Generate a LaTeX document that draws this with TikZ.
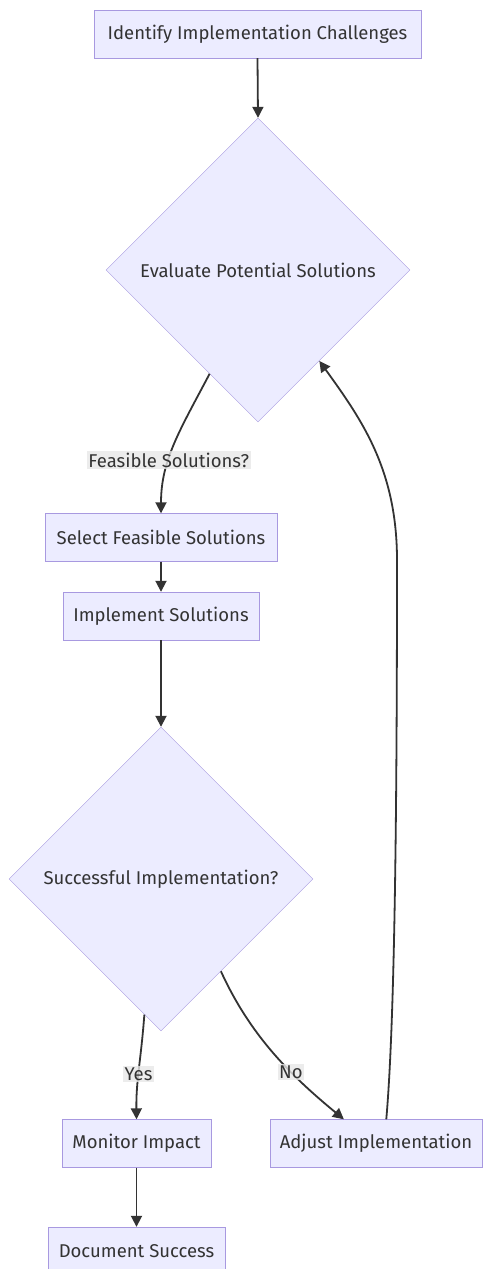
\documentclass[tikz,border=0pt]{standalone}
\usepackage{fontspec}
\setmainfont{Fira Sans}
\usetikzlibrary{shapes.geometric,arrows.meta}
\definecolor{lavender}{HTML}{ECECFF}
\definecolor{lilac}{HTML}{A899E0}
\definecolor{ink}{HTML}{333333}
\definecolor{lblgray}{HTML}{E8E8E8}

\begin{document}
\begin{tikzpicture}[x=1pt, y=-1pt,
                    every node/.style={font=\fontsize{18.5}{22}\selectfont, text=ink},
                    proc/.style={rectangle, draw=lilac, fill=lavender, minimum height=48pt, inner xsep=0pt},
                    choice/.style={diamond, draw=lilac, fill=lavender, aspect=1, minimum width=304pt, minimum height=304pt, inner sep=0pt},
                    lbl/.style={fill=lblgray, fill opacity=0.8, text opacity=1, inner sep=1.5pt},
                    flow/.style={draw=ink, line width=1.8pt, -{Triangle[length=11pt,width=11pt]}}]
\fill[white] (0,0) rectangle (483,1269);
\useasboundingbox (0,0) rectangle (483,1269);

\node[proc, minimum width=327pt] (ident) at (257.5,34) {Identify Implementation Challenges};
\node[choice] (eval) at (258,270) {Evaluate Potential Solutions};
\node[proc, minimum width=232pt] (select) at (161,537.5) {Select Feasible Solutions};
\node[proc, minimum width=196pt] (impl) at (161,616) {Implement Solutions};
\node[choice] (success) at (161,879) {Successful Implementation?};
\node[proc, minimum width=149pt] (monitor) at (136.5,1143.5) {Monitor Impact};
\node[proc, minimum width=212pt] (adjust) at (376,1143.5) {Adjust Implementation};
\node[proc, minimum width=177pt] (docu) at (136.5,1251) {Document Success};

\draw[flow] (ident.south) -- (eval.north);
\draw[flow] (eval.245) .. controls (180,430) and (161,460) .. (select.north)
    node[lbl, pos=0.62] {Feasible Solutions?};
\draw[flow] (select.south) -- (impl.north);
\draw[flow] (impl.south) -- (success.north);
\draw[flow] (success.263) .. controls (141,1060) and (136,1080) .. (monitor.north)
    node[lbl, pos=0.55] {Yes};
\draw[flow] (success.303) .. controls (250,1035) and (290,1075) .. (adjust.143)
    node[lbl, pos=0.64] {No};
\draw[flow] (monitor.south) -- (docu.north);
\draw[flow] (adjust.67) .. controls (395,1020) and (397,800) .. (397,560)
    .. controls (397,470) and (362,420) .. (eval.304);
\end{tikzpicture}
\end{document}
